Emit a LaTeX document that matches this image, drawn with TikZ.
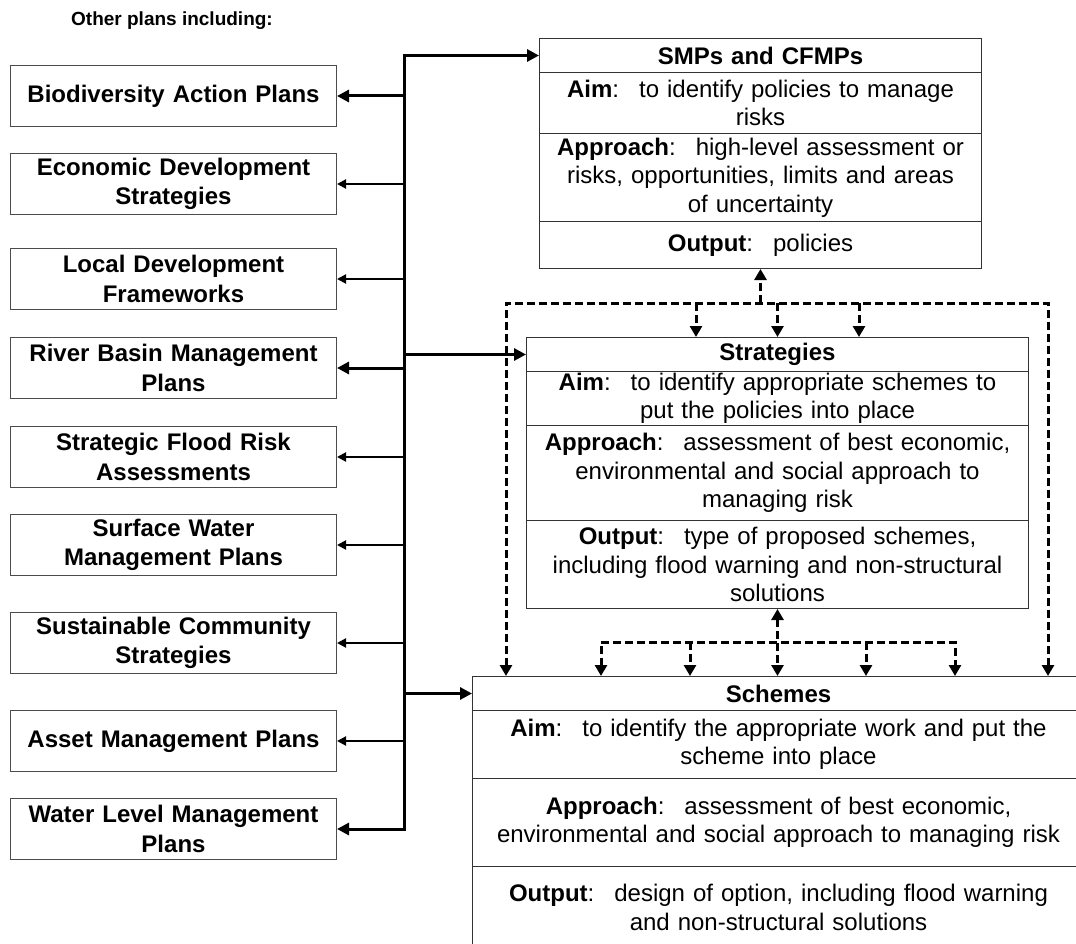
\documentclass[tikz,border=0pt]{standalone}
\usepackage{fontspec}
\setmainfont{Liberation Sans}
\usepackage{tikz}
\usetikzlibrary{arrows.meta, positioning}

\tikzset{
  plan/.style={draw=black!70, line width=1pt, text width=318pt, minimum height=61pt,
    inner xsep=4pt, inner ysep=0pt, align=center, anchor=north west,
    font=\fontsize{24}{29.5}\selectfont\bfseries},
  sect/.style={draw=black!80, line width=1pt, inner xsep=4pt, inner ysep=0pt,
    align=center, anchor=north west, font=\fontsize{24}{28.3}\selectfont},
  head/.style={sect, font=\fontsize{24}{28.3}\selectfont\bfseries},
  fatarr/.style={line width=3pt, -{Triangle[length=12pt,width=12pt]}},
  fatboth/.style={line width=3pt, {Triangle[length=12pt,width=12pt]}-{Triangle[length=12pt,width=12pt]}},
  thinarr/.style={line width=2pt, -{Triangle[length=9pt,width=9pt]}},
  dasharr/.style={line width=3pt, dash pattern=on 8pt off 4pt, -{Triangle[length=11pt,width=12pt]}},
  dashboth/.style={dasharr, {Triangle[length=11pt,width=12pt]}-{Triangle[length=11pt,width=12pt]}},
}

\begin{document}
\begin{tikzpicture}[x=1pt, y=-1pt]
    \useasboundingbox (0,0) rectangle (1076,944);
    \clip (0,0) rectangle (1076,944);

    % 1. Tieu de va cac ke hoach khac
    \node[font=\fontsize{19}{23}\selectfont\bfseries] (title) at (172,21) {Other plans including:};
    \node[plan] (bio) at (10,65)  {Biodiversity Action Plans};
    \node[plan] (eds) at (10,153) {Economic Development\\Strategies};
    \node[plan] (ldf) at (10,248) {Local Development\\Frameworks};
    \node[plan] (rbm) at (10,337) {River Basin Management\\Plans};
    \node[plan] (sfr) at (10,426) {Strategic Flood Risk\\Assessments};
    \node[plan] (swm) at (10,514) {Surface Water\\Management Plans};
    \node[plan] (scs) at (10,612) {Sustainable Community\\Strategies};
    \node[plan] (amp) at (10,710) {Asset Management Plans};
    \node[plan] (wlm) at (10,798) {Water Level Management\\Plans};

    % 2. SMPs and CFMPs
    \node[head, text width=434pt, minimum height=34pt] (smpH) at (539,38) {SMPs and CFMPs};
    \node[sect, text width=434pt, minimum height=61pt] (smpA) at (539,72)
        {\textbf{Aim}:~ to identify policies to manage\\risks};
    \node[sect, text width=434pt, minimum height=88pt] (smpP) at (539,133)
        {\textbf{Approach}:~ high-level assessment or\\risks, opportunities, limits and areas\\of uncertainty};
    \node[sect, text width=434pt, minimum height=47pt] (smpO) at (539,221)
        {\textbf{Output}:~ policies};

    % 3. Strategies
    \node[head, text width=494pt, minimum height=34pt] (strH) at (526,337) {Strategies};
    \node[sect, text width=494pt, minimum height=54pt] (strA) at (526,371)
        {\textbf{Aim}:~ to identify appropriate schemes to\\put the policies into place};
    \node[sect, text width=494pt, minimum height=95pt] (strP) at (526,425)
        {\textbf{Approach}:~ assessment of best economic,\\environmental and social approach to\\managing risk};
    \node[sect, text width=494pt, minimum height=88pt] (strO) at (526,520)
        {\textbf{Output}:~ type of proposed schemes,\\including flood warning and non-structural\\solutions};

    % 4. Schemes (chay ra ngoai mep hinh)
    \node[head, text width=604pt, minimum height=34pt] (schH) at (472,676) {Schemes};
    \node[sect, text width=604pt, minimum height=68pt] (schA) at (472,710)
        {\textbf{Aim}:~ to identify the appropriate work and put the\\scheme into place};
    \node[sect, text width=604pt, minimum height=88pt] (schP) at (472,778)
        {\textbf{Approach}:~ assessment of best economic,\\environmental and social approach to managing risk};
    \node[sect, text width=604pt, minimum height=82pt] (schO) at (472,866)
        {\textbf{Output}:~ design of option, including flood warning\\and non-structural solutions};

    % 5. Duong truc dung va cac mui ten
    \coordinate (bus) at (404,0);
    \draw[fatboth] (wlm.east) -- (wlm.east -| bus) -- (smpH.west -| bus) -- (smpH.west);
    \draw[fatarr] (strH.west -| bus) -- (strH.west);
    \draw[fatarr] (schH.west -| bus) -- (schH.west);
    \draw[fatarr] (bio.east -| bus) -- (bio.east);
    \draw[thinarr] (eds.east -| bus) -- (eds.east);
    \draw[thinarr] (ldf.east -| bus) -- (ldf.east);
    \draw[fatarr] (rbm.east -| bus) -- (rbm.east);
    \draw[thinarr] (sfr.east -| bus) -- (sfr.east);
    \draw[thinarr] (swm.east -| bus) -- (swm.east);
    \draw[thinarr] (scs.east -| bus) -- (scs.east);
    \draw[thinarr] (amp.east -| bus) -- (amp.east);

    % 6. Cac duong net dut phia tren
    \coordinate (tL) at (506,303);
    \coordinate (tR) at (1048,303);
    \coordinate (t1) at (696,303);
    \coordinate (t2) at (859,303);
    \draw[dashboth] (tL |- schH.north) -- (tL) -- (tR) -- (tR |- schH.north);
    \draw[dasharr] (smpO.south |- tL) -- (smpO.south);
    \draw[dasharr] (t1) -- (t1 |- strH.north);
    \draw[dasharr] (strH.north |- tL) -- (strH.north);
    \draw[dasharr] (t2) -- (t2 |- strH.north);

    % 7. Cac duong net dut phia duoi
    \coordinate (b1) at (601,642);
    \coordinate (b2) at (690,642);
    \coordinate (b4) at (866,642);
    \coordinate (b5) at (955,642);
    \draw[dashboth] (b1 |- schH.north) -- (b1) -- (b5) -- (b5 |- schH.north);
    \draw[dasharr] (b2) -- (b2 |- schH.north);
    \draw[dasharr] (b4) -- (b4 |- schH.north);
    \draw[dashboth] (strO.south) -- (strO.south |- schH.north);
\end{tikzpicture}
\end{document}
